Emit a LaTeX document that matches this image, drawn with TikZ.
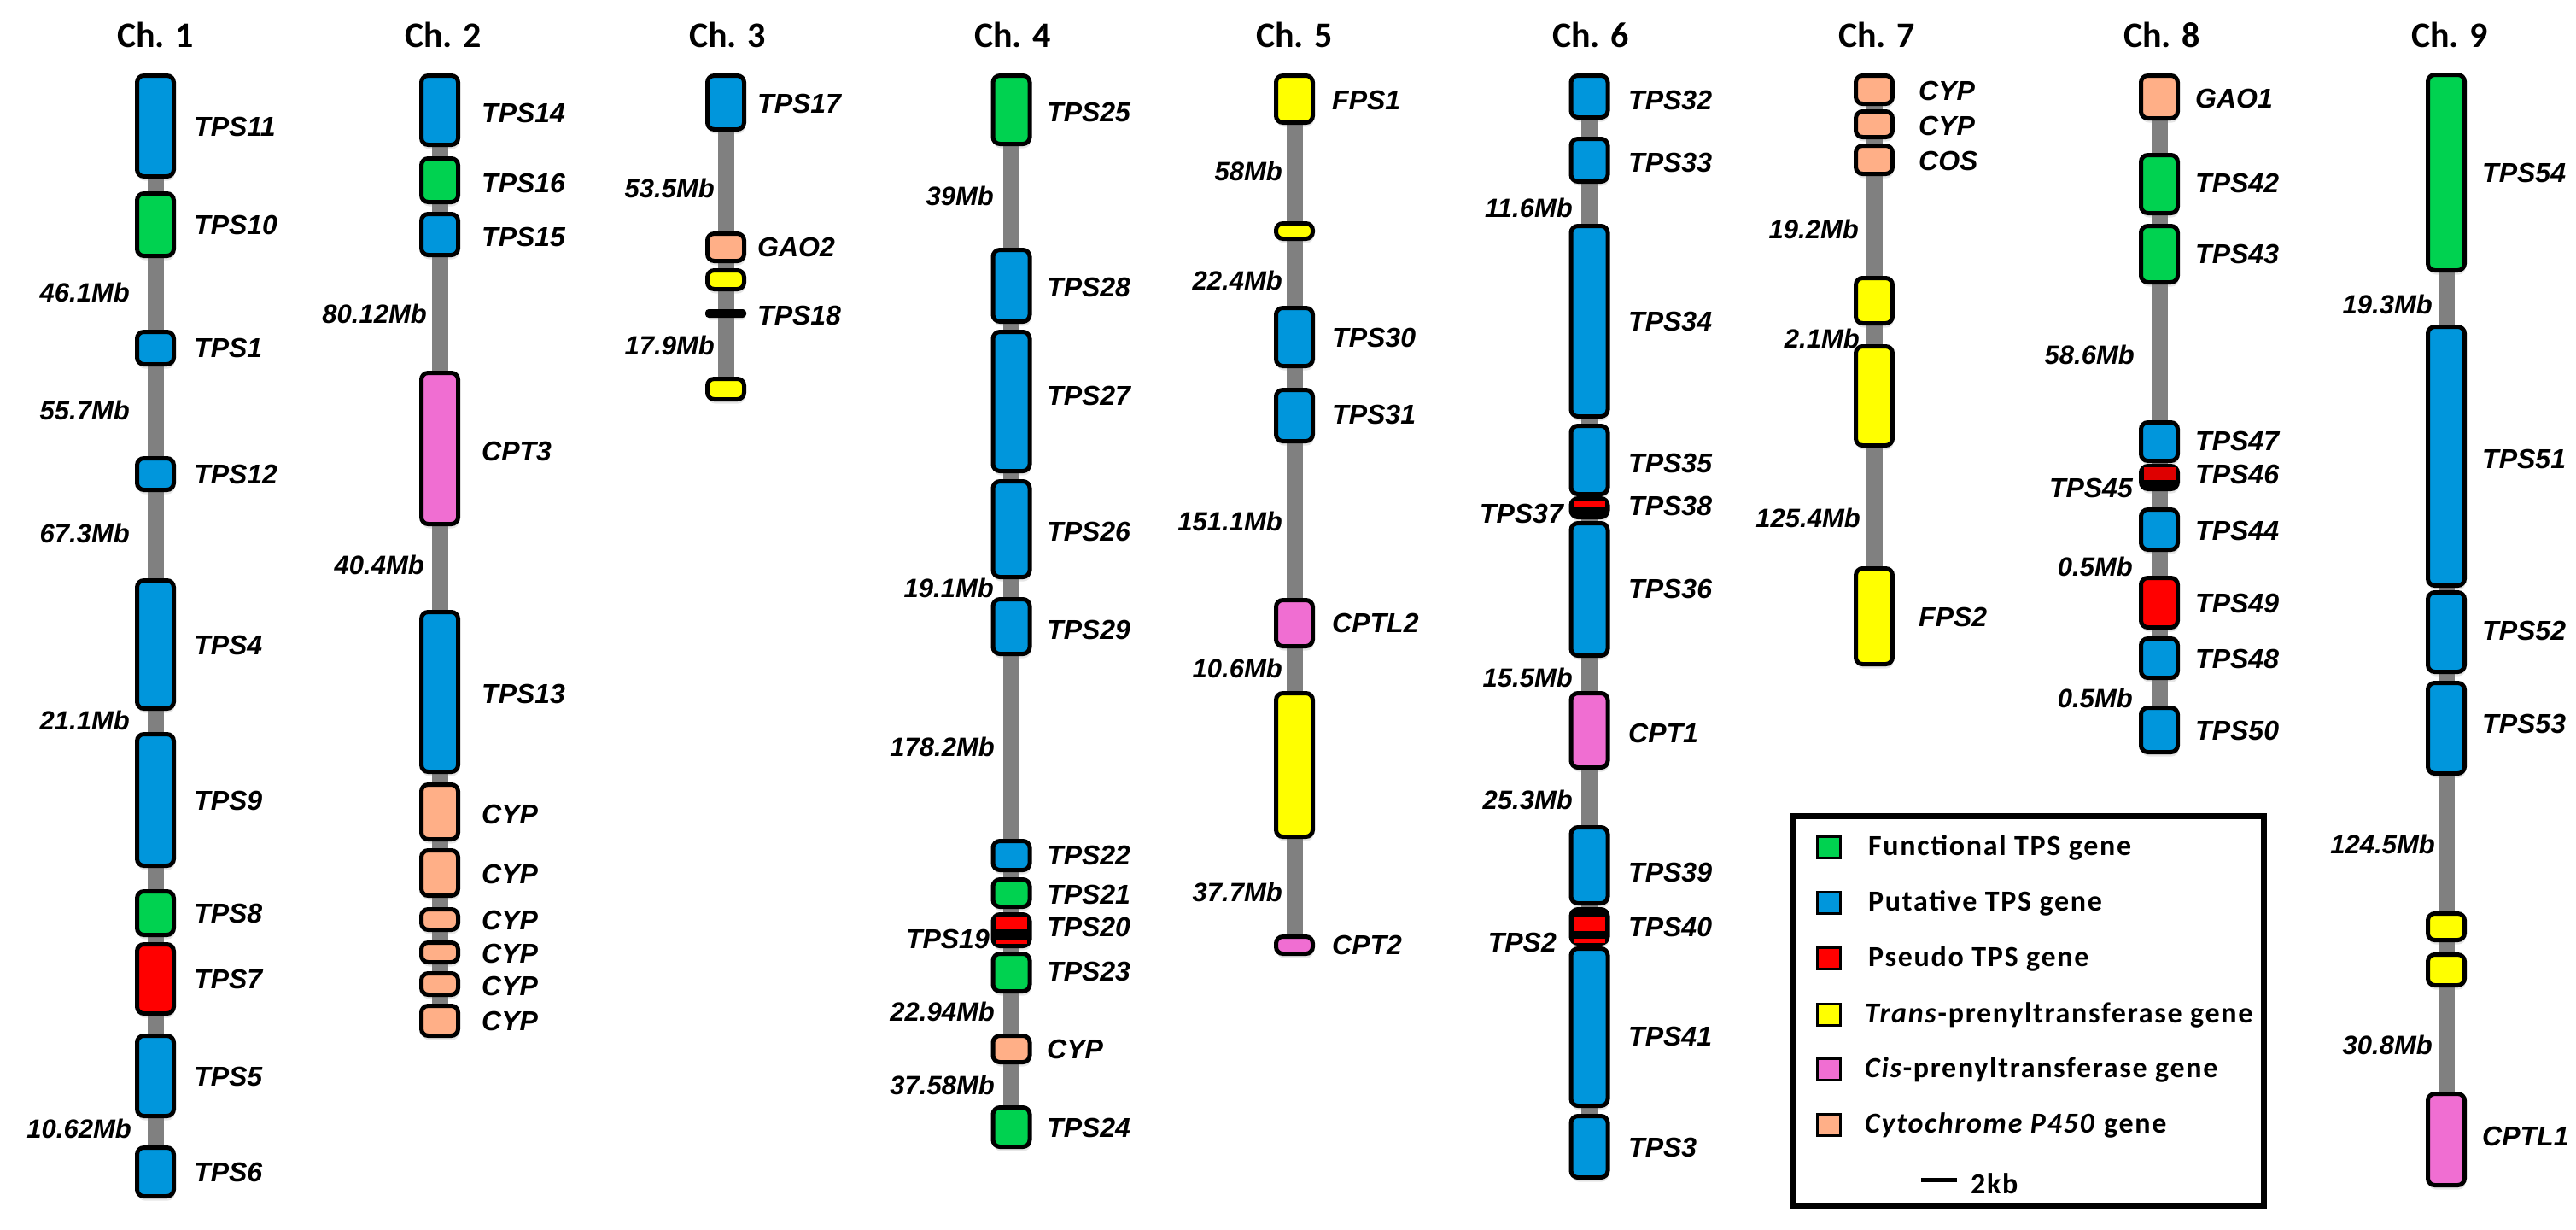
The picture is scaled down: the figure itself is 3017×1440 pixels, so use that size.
\documentclass[tikz,border=0pt]{standalone}
\usepackage{fontspec}
\setmainfont{Liberation Sans}
\newfontfamily\carl{Carlito}
\newfontfamily\carlsp[LetterSpace=5]{Carlito}
\usetikzlibrary{backgrounds,shadows}
\definecolor{tblue}{RGB}{0,150,220}
\definecolor{tgreen}{RGB}{0,210,80}
\definecolor{tred}{RGB}{255,0,0}
\definecolor{tdred}{RGB}{222,0,0}
\definecolor{tyellow}{RGB}{255,255,0}
\definecolor{tpink}{RGB}{240,110,210}
\definecolor{tsalmon}{RGB}{255,175,135}
\definecolor{bbgray}{RGB}{128,128,128}
\newcommand\genefont{\fontsize{32}{32}\selectfont\bfseries\itshape}
\newcommand\distfont{\fontsize{31}{31}\selectfont\bfseries\itshape}
\newcommand\chfont{\carl\bfseries\fontsize{42}{42}\selectfont}
\newcommand\legfont{\carlsp\bfseries\fontsize{34}{34}\selectfont}
\tikzset{
  gene/.style={draw=black, line width=5pt, rounded corners=8pt, minimum width=43pt, inner sep=0pt, outer sep=0pt,
    drop shadow={shadow xshift=1pt, shadow yshift=-5pt, opacity=0.2}},
  stripe/.style={inner sep=0pt, outer sep=0pt, minimum width=37pt},
  genelab/.style={font=\genefont, anchor=west, inner sep=0pt},
  distlab/.style={font=\distfont, anchor=east, inner sep=0pt},
  chtitle/.style={font=\chfont, inner sep=0pt},
  backbone/.style={draw=bbgray, line width=19pt},
  swatch/.style={draw=black, line width=3pt, minimum width=27pt, minimum height=25pt, inner sep=0pt},
  legtext/.style={font=\legfont, anchor=west, inner sep=0pt},
}
% name, x, top, bottom, colour
\newcommand\gbox[5]{\pgfmathsetmacro\gbh{#4-#3-5}\node[gene, fill=#5, minimum height=\gbh pt] (#1) at (#2,{(#3+#4)/2}) {};}
% name, x, top, bottom, colour
\newcommand\gstripe[5]{\pgfmathsetmacro\gsh{#4-#3}\node[stripe, fill=#5, minimum height=\gsh pt] (#1) at (#2,{(#3+#4)/2}) {};}
\begin{document}
\begin{tikzpicture}[x=1pt, y=-1pt]
\useasboundingbox (0,0) rectangle (3017,1440);

% ---------- titles ----------
\node[chtitle] (t1) at (182,41) {Ch. 1};
\node[chtitle] (t2) at (519,41) {Ch. 2};
\node[chtitle] (t3) at (852,41) {Ch. 3};
\node[chtitle] (t4) at (1186,41) {Ch. 4};
\node[chtitle] (t5) at (1516,41) {Ch. 5};
\node[chtitle] (t6) at (1863,41) {Ch. 6};
\node[chtitle] (t7) at (2198,41) {Ch. 7};
\node[chtitle] (t8) at (2532,41) {Ch. 8};
\node[chtitle] (t9) at (2869,41) {Ch. 9};

% ---------- Ch. 1 ----------
\gbox{c1a}{182}{86}{209}{tblue}
\gbox{c1b}{182}{224}{302}{tgreen}
\gbox{c1c}{182}{386}{429}{tblue}
\gbox{c1d}{182}{534}{576}{tblue}
\gbox{c1e}{182}{677}{832}{tblue}
\gbox{c1f}{182}{857}{1016}{tblue}
\gbox{c1g}{182}{1041}{1097}{tgreen}
\gbox{c1h}{182}{1103}{1189}{tred}
\gbox{c1i}{182}{1210}{1309}{tblue}
\gbox{c1j}{182}{1341}{1403}{tblue}
\node[genelab] (l1a) at (227,148) {TPS11};
\node[genelab] (l1b) at (227,263) {TPS10};
\node[genelab] (l1c) at (227,407) {TPS1};
\node[genelab] (l1d) at (227,555) {TPS12};
\node[genelab] (l1e) at (227,755) {TPS4};
\node[genelab] (l1f) at (227,937) {TPS9};
\node[genelab] (l1g) at (227,1069) {TPS8};
\node[genelab] (l1h) at (227,1146) {TPS7};
\node[genelab] (l1i) at (227,1260) {TPS5};
\node[genelab] (l1j) at (227,1372) {TPS6};
\node[distlab] (d1a) at (152,342) {46.1Mb};
\node[distlab] (d1b) at (152,480) {55.7Mb};
\node[distlab] (d1c) at (152,624) {67.3Mb};
\node[distlab] (d1d) at (152,843) {21.1Mb};
\node[distlab] (d1e) at (154,1321) {10.62Mb};

% ---------- Ch. 2 ----------
\gbox{c2a}{515}{86}{172}{tblue}
\gbox{c2b}{515}{183}{239}{tgreen}
\gbox{c2c}{515}{248}{301}{tblue}
\gbox{c2d}{515}{434}{616}{tpink}
\gbox{c2e}{515}{714}{906}{tblue}
\gbox{c2f}{515}{916}{985}{tsalmon}
\gbox{c2g}{515}{993}{1051}{tsalmon}
\gbox{c2h}{515}{1062}{1091}{tsalmon}
\gbox{c2i}{515}{1101}{1129}{tsalmon}
\gbox{c2j}{515}{1137}{1167}{tsalmon}
\gbox{c2k}{515}{1175}{1215}{tsalmon}
\node[genelab] (l2a) at (564,132) {TPS14};
\node[genelab] (l2b) at (564,214) {TPS16};
\node[genelab] (l2c) at (564,277) {TPS15};
\node[genelab] (l2d) at (564,528) {CPT3};
\node[genelab] (l2e) at (564,812) {TPS13};
\node[genelab] (l2f) at (564,953) {CYP};
\node[genelab] (l2g) at (564,1023) {CYP};
\node[genelab] (l2h) at (564,1077) {CYP};
\node[genelab] (l2i) at (564,1116) {CYP};
\node[genelab] (l2j) at (564,1154) {CYP};
\node[genelab] (l2k) at (564,1195) {CYP};
\node[distlab] (d2a) at (500,367) {80.12Mb};
\node[distlab] (d2b) at (497,661) {40.4Mb};

% ---------- Ch. 3 ----------
\gbox{c3a}{850}{86}{154}{tblue}
\gbox{c3b}{850}{271}{308}{tsalmon}
\gbox{c3c}{850}{314}{341}{tyellow}
\node[gene, fill=black, rounded corners=2pt, minimum height=5pt] (c3d) at (850,367) {};
\gbox{c3e}{850}{441}{470}{tyellow}
\node[genelab] (l3a) at (887,121) {TPS17};
\node[genelab] (l3b) at (887,289) {GAO2};
\node[genelab] (l3d) at (887,369) {TPS18};
\node[distlab] (d3a) at (837,220) {53.5Mb};
\node[distlab] (d3b) at (837,404) {17.9Mb};

% ---------- Ch. 4 ----------
\gbox{c4a}{1184.5}{86}{171}{tgreen}
\gbox{c4b}{1184.5}{290}{379}{tblue}
\gbox{c4c}{1184.5}{386}{554}{tblue}
\gbox{c4d}{1184.5}{561}{678}{tblue}
\gbox{c4e}{1184.5}{699}{768}{tblue}
\gbox{c4f}{1184.5}{982}{1021}{tblue}
\gbox{c4g}{1184.5}{1027}{1064}{tgreen}
\gbox{c4h}{1184.5}{1068}{1110}{black}
\gstripe{c4hr}{1184.5}{1073}{1088}{tred}
\gstripe{c4hs}{1184.5}{1101}{1105}{tred}
\gbox{c4i}{1184.5}{1114}{1163}{tgreen}
\gbox{c4j}{1184.5}{1210}{1246}{tsalmon}
\gbox{c4k}{1184.5}{1294}{1345}{tgreen}
\node[genelab] (l4a) at (1226,131) {TPS25};
\node[genelab] (l4b) at (1226,336) {TPS28};
\node[genelab] (l4c) at (1226,463) {TPS27};
\node[genelab] (l4d) at (1226,622) {TPS26};
\node[genelab] (l4e) at (1226,737) {TPS29};
\node[genelab] (l4f) at (1226,1001) {TPS22};
\node[genelab] (l4g) at (1226,1047) {TPS21};
\node[genelab] (l4h) at (1226,1085) {TPS20};
\node[genelab, anchor=east] (l4hs) at (1159,1099) {TPS19};
\node[genelab] (l4i) at (1226,1137) {TPS23};
\node[genelab] (l4j) at (1226,1228) {CYP};
\node[genelab] (l4k) at (1226,1320) {TPS24};
\node[distlab] (d4a) at (1164,229) {39Mb};
\node[distlab] (d4b) at (1164,688) {19.1Mb};
\node[distlab] (d4c) at (1165,874) {178.2Mb};
\node[distlab] (d4d) at (1165,1184) {22.94Mb};
\node[distlab] (d4e) at (1165,1270) {37.58Mb};

% ---------- Ch. 5 ----------
\gbox{c5a}{1516}{86}{146}{tyellow}
\gbox{c5b}{1516}{259}{282}{tyellow}
\gbox{c5c}{1516}{358}{431}{tblue}
\gbox{c5d}{1516}{454}{519}{tblue}
\gbox{c5e}{1516}{700}{759}{tpink}
\gbox{c5f}{1516}{809}{982}{tyellow}
\gbox{c5g}{1516}{1094}{1119}{tpink}
\node[genelab] (l5a) at (1560,117) {FPS1};
\node[genelab] (l5c) at (1560,395) {TPS30};
\node[genelab] (l5d) at (1560,485) {TPS31};
\node[genelab] (l5e) at (1560,729) {CPTL2};
\node[genelab] (l5g) at (1560,1106) {CPT2};
\node[distlab] (d5a) at (1502,200) {58Mb};
\node[distlab] (d5b) at (1502,328) {22.4Mb};
\node[distlab] (d5c) at (1502,610) {151.1Mb};
\node[distlab] (d5d) at (1502,782) {10.6Mb};
\node[distlab] (d5e) at (1502,1044) {37.7Mb};

% ---------- Ch. 6 ----------
\gbox{c6a}{1861.5}{86}{140}{tblue}
\gbox{c6b}{1861.5}{160}{215}{tblue}
\gbox{c6c}{1861.5}{262}{490}{tblue}
\gbox{c6d}{1861.5}{496}{581}{tblue}
\gbox{c6e}{1861.5}{581}{608}{black}
\gstripe{c6er}{1861.5}{587}{593}{tred}
\gbox{c6f}{1861.5}{610}{770}{tblue}
\gbox{c6g}{1861.5}{809}{901}{tpink}
\gbox{c6h}{1861.5}{966}{1060}{tblue}
\gbox{c6i}{1861.5}{1062}{1107}{black}
\gstripe{c6ir}{1861.5}{1073}{1090}{tred}
\gstripe{c6is}{1861.5}{1099}{1104}{tred}
\gbox{c6j}{1861.5}{1108}{1297}{tblue}
\gbox{c6k}{1861.5}{1304}{1381}{tblue}
\node[genelab] (l6a) at (1907,117) {TPS32};
\node[genelab] (l6b) at (1907,190) {TPS33};
\node[genelab] (l6c) at (1907,376) {TPS34};
\node[genelab] (l6d) at (1907,542) {TPS35};
\node[genelab] (l6e) at (1907,592) {TPS38};
\node[genelab, anchor=east] (l6es) at (1831,601) {TPS37};
\node[genelab] (l6f) at (1907,689) {TPS36};
\node[genelab] (l6g) at (1907,858) {CPT1};
\node[genelab] (l6h) at (1907,1021) {TPS39};
\node[genelab] (l6i) at (1907,1085) {TPS40};
\node[genelab, anchor=east] (l6is) at (1823,1103) {TPS2};
\node[genelab] (l6j) at (1907,1213) {TPS41};
\node[genelab] (l6k) at (1907,1343) {TPS3};
\node[distlab] (d6a) at (1842,243) {11.6Mb};
\node[distlab] (d6b) at (1842,793) {15.5Mb};
\node[distlab] (d6c) at (1842,936) {25.3Mb};

% ---------- Ch. 7 ----------
\gbox{c7a}{2195}{86}{124}{tsalmon}
\gbox{c7b}{2195}{128}{163}{tsalmon}
\gbox{c7c}{2195}{168}{206}{tsalmon}
\gbox{c7d}{2195}{323}{381}{tyellow}
\gbox{c7e}{2195}{403}{524}{tyellow}
\gbox{c7f}{2195}{663}{780}{tyellow}
\node[genelab] (l7a) at (2247,106) {CYP};
\node[genelab] (l7b) at (2247,147) {CYP};
\node[genelab] (l7c) at (2247,188) {COS};
\node[genelab] (l7f) at (2247,722) {FPS2};
\node[distlab] (d7a) at (2177,268) {19.2Mb};
\node[distlab] (d7b) at (2178,396) {2.1Mb};
\node[distlab] (d7c) at (2179,606) {125.4Mb};

% ---------- Ch. 8 ----------
\gbox{c8a}{2529}{86}{141}{tsalmon}
\gbox{c8b}{2529}{179}{252}{tgreen}
\gbox{c8c}{2529}{262}{333}{tgreen}
\gbox{c8d}{2529}{492}{542}{tblue}
\gbox{c8e}{2529}{543}{575}{black}
\gstripe{c8er}{2529}{547}{562}{tdred}
\gbox{c8f}{2529}{594}{646}{tblue}
\gbox{c8g}{2529}{674}{737}{tred}
\gbox{c8h}{2529}{745}{796}{tblue}
\gbox{c8i}{2529}{826}{883}{tblue}
\node[genelab] (l8a) at (2571,115) {GAO1};
\node[genelab] (l8b) at (2571,214) {TPS42};
\node[genelab] (l8c) at (2571,297) {TPS43};
\node[genelab] (l8d) at (2571,516) {TPS47};
\node[genelab] (l8e) at (2571,555) {TPS46};
\node[genelab, anchor=east] (l8es) at (2498,571) {TPS45};
\node[genelab] (l8f) at (2571,621) {TPS44};
\node[genelab] (l8g) at (2571,706) {TPS49};
\node[genelab] (l8h) at (2571,771) {TPS48};
\node[genelab] (l8i) at (2571,855) {TPS50};
\node[distlab] (d8a) at (2500,415) {58.6Mb};
\node[distlab] (d8b) at (2498,663) {0.5Mb};
\node[distlab] (d8c) at (2498,817) {0.5Mb};

% ---------- Ch. 9 ----------
\gbox{c9a}{2865}{85}{319}{tgreen}
\gbox{c9b}{2865}{380}{688}{tblue}
\gbox{c9c}{2865}{691}{789}{tblue}
\gbox{c9d}{2865}{797}{908}{tblue}
\gbox{c9e}{2865}{1067}{1103}{tyellow}
\gbox{c9f}{2865}{1115}{1156}{tyellow}
\gbox{c9g}{2865}{1278}{1390}{tpink}
\node[genelab] (l9a) at (2907,202) {TPS54};
\node[genelab] (l9b) at (2907,537) {TPS51};
\node[genelab] (l9c) at (2907,738) {TPS52};
\node[genelab] (l9d) at (2907,847) {TPS53};
\node[genelab] (l9g) at (2907,1330) {CPTL1};
\node[distlab] (d9a) at (2849,356) {19.3Mb};
\node[distlab] (d9b) at (2852,988) {124.5Mb};
\node[distlab] (d9c) at (2849,1223) {30.8Mb};

% ---------- backbones ----------
\begin{pgfonlayer}{background}
\draw[backbone] (c1a.center) -- (c1j.center);
\draw[backbone] (c2a.center) -- (c2k.center);
\draw[backbone] (c3a.center) -- (c3e.center);
\draw[backbone] (c4a.center) -- (c4k.center);
\draw[backbone] (c5a.center) -- (c5g.center);
\draw[backbone] (c6a.center) -- (c6k.center);
\draw[backbone] (c7a.center) -- (c7f.center);
\draw[backbone] (c8a.center) -- (c8i.center);
\draw[backbone] (c9a.center) -- (c9g.center);
\end{pgfonlayer}

% ---------- legend ----------
\node[draw=black, line width=7pt, minimum width=551pt, minimum height=456pt, inner sep=0pt] (legend) at (2376,1183.5) {};
\node[swatch, fill=tgreen] (s1) at (2142,992) {};
\node[swatch, fill=tblue] (s2) at (2142,1057) {};
\node[swatch, fill=tred] (s3) at (2142,1122) {};
\node[swatch, fill=tyellow] (s4) at (2142,1188) {};
\node[swatch, fill=tpink] (s5) at (2142,1252) {};
\node[swatch, fill=tsalmon] (s6) at (2142,1317) {};
\node[legtext] (x1) at (2188,992) {Functional TPS gene};
\node[legtext] (x2) at (2188,1057) {Putative TPS gene};
\node[legtext] (x3) at (2188,1122) {Pseudo TPS gene};
\node[legtext] (x4) at (2184,1188) {\textit{Trans}-prenyltransferase gene};
\node[legtext] (x5) at (2184,1252) {\textit{Cis}-prenyltransferase gene};
\node[legtext] (x6) at (2184,1317) {\textit{Cytochrome P450} gene};
\coordinate (sb1) at (2250,1381);
\coordinate (sb2) at (2292,1381);
\draw[line width=5pt] (sb1) -- (sb2);
\node[legtext] (x7) at (2308,1386) {2kb};
\end{tikzpicture}
\end{document}
